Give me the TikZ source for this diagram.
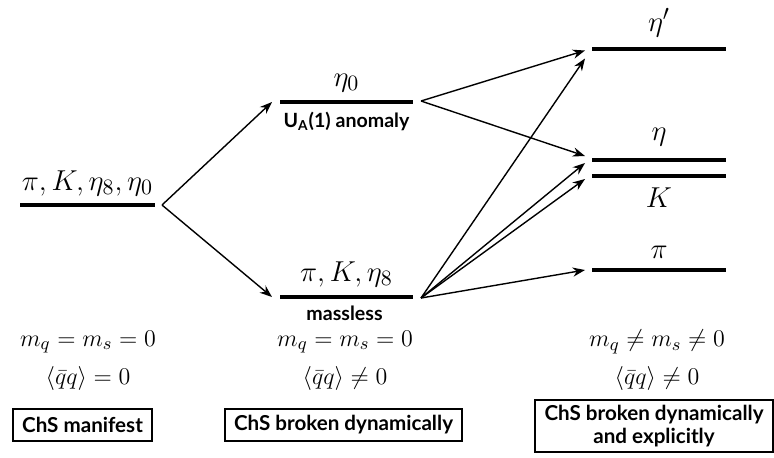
\documentclass[tikz,border=0pt]{standalone}
\usepackage{fontspec}
\setsansfont{Lato}
\usetikzlibrary{arrows.meta, positioning, calc}

\begin{document}
\begin{tikzpicture}[x=0.5pt, y=-0.5pt, >=Stealth,
    level/.style={line width=2pt},
    trans/.style={->, line width=0.7pt},
    lbl/.style={font=\fontsize{15}{18}\selectfont, inner sep=1pt},
    tag/.style={font=\sffamily\bfseries\fontsize{9.8}{11}\selectfont, inner sep=1pt},
    cond/.style={font=\fontsize{12.5}{15}\selectfont, inner sep=1pt},
    phase/.style={draw, line width=1pt, font=\sffamily\bfseries\fontsize{10.3}{11.5}\selectfont,
        align=center, inner sep=0pt, minimum height=16pt}]
    \useasboundingbox (0,0) rectangle (774,457);

    % chiral limit, symmetry manifest
    \coordinate (all l) at (20,205);
    \coordinate (all r) at (155,205);
    \draw[level] (all l) -- (all r) node[midway, above=2.5pt, lbl] (all) {$\pi, K, \eta_8, \eta_0$};
    \coordinate (split) at (162,205);

    % dynamical breaking
    \coordinate (eta0 l) at (280,102);
    \coordinate (eta0 r) at (413,102);
    \draw[level] (eta0 l) -- (eta0 r) node[midway, above=3pt, lbl] (eta0) {$\eta_0$};
    \node[tag, below=4pt of $(eta0 l)!0.5!(eta0 r)$] (anom) {U\textsubscript{A}(1) anomaly};

    \coordinate (gold l) at (280,297);
    \coordinate (gold r) at (413,297);
    \draw[level] (gold l) -- (gold r) node[midway, above=3pt, lbl] (gold) {$\pi, K, \eta_8$};
    \node[tag, below=3.5pt of $(gold l)!0.5!(gold r)$, xshift=-1pt] (mless) {massless};

    \draw[trans] (split) -- (272,102);
    \draw[trans] (split) -- (272,297);

    % explicit breaking
    \coordinate (etap l) at (592,49);
    \coordinate (etap r) at (726,49);
    \draw[level] (etap l) -- (etap r) node[midway, above=4pt, lbl] (etap) {$\eta'$};

    \coordinate (eta l) at (592,160);
    \coordinate (eta r) at (726,160);
    \draw[level] (eta l) -- (eta r) node[midway, above=5pt, lbl] (eta) {$\eta$};

    \coordinate (kaon l) at (592,176);
    \coordinate (kaon r) at (726,176);
    \draw[level] (kaon l) -- (kaon r) node[midway, below=4pt, lbl] (kaon) {$K$};

    \coordinate (pion l) at (592,270);
    \coordinate (pion r) at (726,270);
    \draw[level] (pion l) -- (pion r) node[midway, above=4pt, lbl] (pion) {$\pi$};

    \coordinate (from eta0) at (421,101);
    \coordinate (from gold) at (421,298);
    \draw[trans] (from eta0) -- (585,50.5);
    \draw[trans] (from eta0) -- (585,156);
    \draw[trans] (from gold) -- (585,58.5);
    \draw[trans] (from gold) -- (585,163);
    \draw[trans] (from gold) -- (585,179);
    \draw[trans] (from gold) -- (585,270);

    % conditions
    \node[cond] (m1) at (88,342) {$m_q = m_s = 0$};
    \node[cond] (q1) at (88,378) {$\langle\bar{q}q\rangle = 0$};
    \node[cond] (m2) at (345,342) {$m_q = m_s = 0$};
    \node[cond] (q2) at (345,378) {$\langle\bar{q}q\rangle \neq 0$};
    \node[cond] (m3) at (657,342) {$m_q \neq m_s \neq 0$};
    \node[cond] (q3) at (657,378) {$\langle\bar{q}q\rangle \neq 0$};

    % phases
    \node[phase, minimum width=69.5pt] (p1) at (82.5,425) {ChS manifest};
    \node[phase, minimum width=118.5pt] (p2) at (343.5,425) {ChS broken dynamically};
    \node[phase, minimum width=119pt, minimum height=26pt] (p3) at (654,426) {ChS broken dynamically\\and explicitly};
\end{tikzpicture}
\end{document}
